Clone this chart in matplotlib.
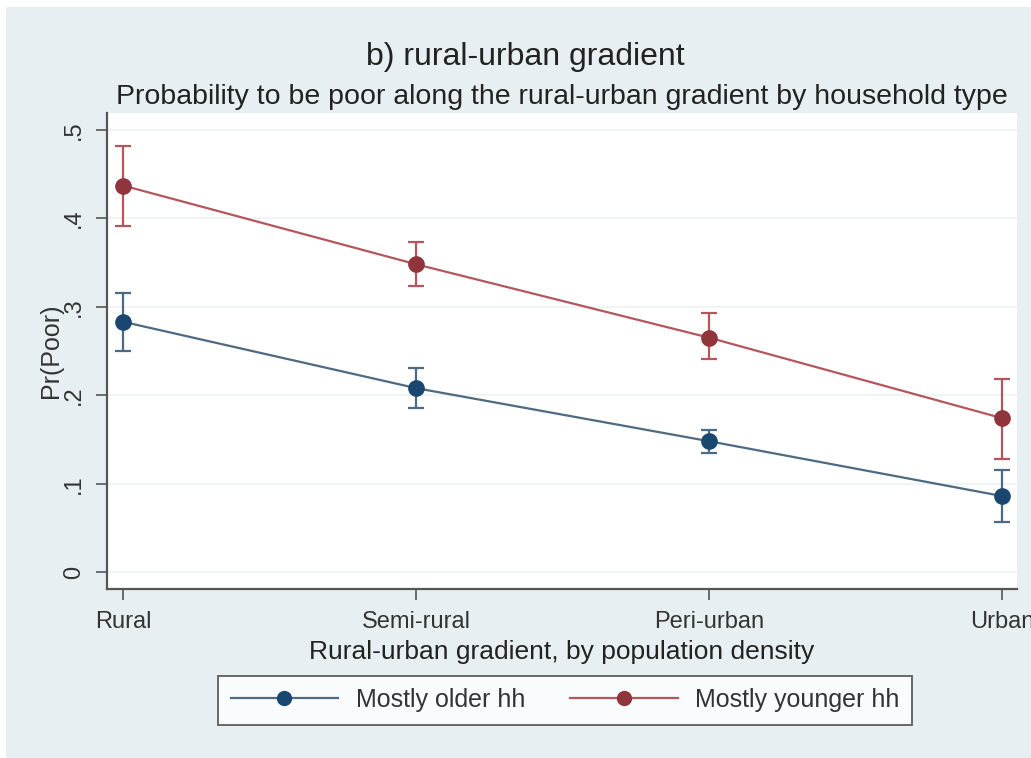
import numpy as np
import matplotlib
matplotlib.use("Agg")
import matplotlib.pyplot as plt
from matplotlib.patches import Rectangle

# data
categories = ["Rural", "Semi-rural", "Peri-urban", "Urban"]

older = [0.283, 0.208, 0.148, 0.086]
older_lo = [0.250, 0.186, 0.135, 0.057]
older_hi = [0.316, 0.231, 0.161, 0.115]

younger = [0.437, 0.348, 0.265, 0.174]
younger_lo = [0.391, 0.324, 0.241, 0.128]
younger_hi = [0.482, 0.373, 0.293, 0.218]

yticks = [0, 0.1, 0.2, 0.3, 0.4, 0.5]
ytick_labels = ["0", ".1", ".2", ".3", ".4", ".5"]

plt.rcParams["font.family"] = ["Liberation Sans", "DejaVu Sans"]

W, H = 1031, 758
fig = plt.figure(figsize=(W / 100, H / 100), dpi=100)
fig.patch.set_facecolor("white")

# light background panel (leaves a thin white strip top/left)
fig.patches.append(Rectangle((6 / W, 0), 1, 1 - 7 / H, transform=fig.transFigure,
                             facecolor="#e8eff3", edgecolor="none", zorder=-5))

ax = fig.add_axes([107 / W, 1 - 589 / H, (1017 - 107) / W, (589 - 113) / H])
ax.set_zorder(2)
ax.set_facecolor("white")

blue = "#1a476f"
red = "#90353b"
blue_line = "#4d6a82"
red_line = "#b5565d"

x = np.arange(len(categories))

ax.grid(axis="y", color="#eef2f4", linewidth=1.2, zorder=0)
ax.set_axisbelow(True)

older_err = [np.array(older) - np.array(older_lo), np.array(older_hi) - np.array(older)]
younger_err = [np.array(younger) - np.array(younger_lo), np.array(younger_hi) - np.array(younger)]

ax.errorbar(x, older, yerr=older_err, fmt="none", ecolor=blue_line, elinewidth=1.6,
             capsize=6, capthick=1.6, zorder=2)
ax.errorbar(x, younger, yerr=younger_err, fmt="none", ecolor=red_line, elinewidth=1.6,
             capsize=6, capthick=1.6, zorder=2)

ax.plot(x, older, color=blue_line, linewidth=1.6, zorder=3)
ax.plot(x, younger, color=red_line, linewidth=1.6, zorder=3)
ax.plot(x, older, "o", color=blue, markersize=11, zorder=4)
ax.plot(x, younger, "o", color=red, markersize=11, zorder=4)

ax.set_xlim(-0.055, 3.05)
ax.set_ylim(-0.019, 0.519)

ax.set_yticks(yticks)
ax.set_yticklabels(ytick_labels, rotation=90, va="center", fontsize=17, color="#333333")
ax.set_xticks(x)
ax.set_xticklabels(categories, fontsize=17, color="#333333")
ax.tick_params(axis="both", length=8, width=1.2, color="#555555", pad=8)

for side in ["top", "right"]:
    ax.spines[side].set_visible(False)
for side in ["left", "bottom"]:
    ax.spines[side].set_color("#555555")
    ax.spines[side].set_linewidth(1.6)

ax.set_ylabel("Pr(Poor)", fontsize=18, color="#333333", labelpad=0)
ax.set_xlabel("Rural-urban gradient, by population density", fontsize=19,
              color="#222222", labelpad=5)

fig.text(525 / W, 1 - 57 / H, "b) rural-urban gradient", ha="center", va="center",
         fontsize=23, color="#222222")
fig.text(562 / W, 1 - 97 / H,
         "Probability to be poor along the rural-urban gradient by household type",
         ha="center", va="center", fontsize=20.5, color="#222222")

h1, = ax.plot([], [], "-o", color=blue_line, markerfacecolor=blue, markeredgecolor=blue,
              markersize=10, linewidth=1.6)
h2, = ax.plot([], [], "-o", color=red_line, markerfacecolor=red, markeredgecolor=red,
              markersize=10, linewidth=1.6)
leg = fig.legend([h1, h2], ["Mostly older hh", "Mostly younger hh"],
                 loc="center", bbox_to_anchor=(565 / W, 1 - 700 / H), ncol=2,
                 fontsize=18, frameon=True, fancybox=False, handlelength=4.3,
                 columnspacing=1.8, borderpad=0.5, handletextpad=0.7, borderaxespad=0)
leg.get_frame().set_edgecolor("#444444")
leg.get_frame().set_linewidth(1.4)
for t in leg.get_texts():
    t.set_color("#333333")

fig.savefig("out.png", dpi=100, facecolor=fig.get_facecolor())
